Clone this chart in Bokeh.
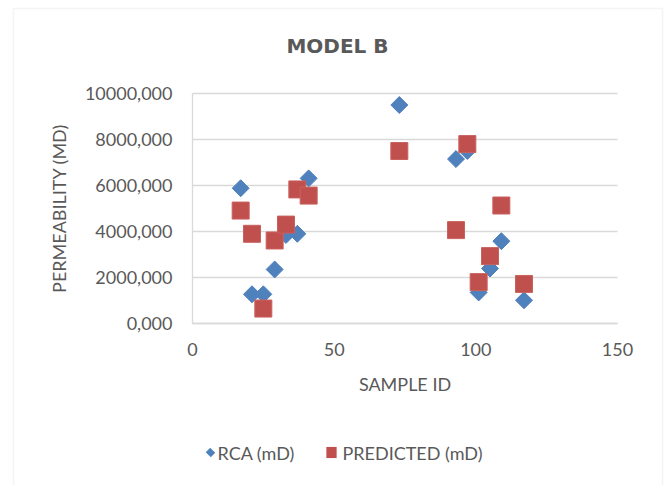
import numpy as np
from bokeh.plotting import figure
from bokeh.models import Range1d, FixedTicker, Label, BoxAnnotation
from bokeh.embed import file_html
from bokeh.resources import INLINE

title_text = "MODEL B"
x_label = "SAMPLE ID"
y_label = "PERMEABILITY (MD)"
series_names = ["RCA (mD)", "PREDICTED (mD)"]
series_colors = ["#4F81BD", "#C0504D"]

sample_id = [17, 21, 25, 29, 33, 37, 41, 73, 93, 97, 101, 105, 109, 117]
rca = [5880, 1270, 1270, 2350, 3850, 3900, 6310, 9500, 7150, 7500, 1350, 2390, 3580, 1010]
predicted = [4910, 3900, 650, 3610, 4300, 5830, 5560, 7500, 4060, 7800, 1800, 2930, 5130, 1720]

x_ticks = [0, 50, 100, 150]
y_ticks = [0, 2000, 4000, 6000, 8000, 10000]
y_tick_labels = ["0,000", "2000,000", "4000,000", "6000,000", "8000,000", "10000,000"]

FONT = "Lato"
TXT = "#595959"
GRID = "#d9d9d9"

# canvas and plot-area geometry (pixels)
W, H = 664, 485
PL, PR, PT, PB = 192, 617, 93, 323

x0, x1 = x_ticks[0], x_ticks[-1]
y0, y1 = y_ticks[0], y_ticks[-1]
kx = (x1 - x0) / (PR - PL)
ky = (y1 - y0) / (PB - PT)

p = figure(width=W, height=H, output_backend="svg", toolbar_location=None,
           x_range=Range1d(x0 - PL * kx, x1 + (W - PR) * kx),
           y_range=Range1d(y0 - (H - PB) * ky, y1 + PT * ky),
           min_border_left=0, min_border_right=0, min_border_top=0, min_border_bottom=0)
p.outline_line_color = None
p.background_fill_color = "white"
p.border_fill_color = "white"

p.xgrid.grid_line_color = None
p.ygrid.grid_line_color = GRID
p.ygrid.grid_line_width = 1.3
p.ygrid.ticker = FixedTicker(ticks=y_ticks)
p.ygrid.bounds = (y0, y1)
p.ygrid.cross_bounds = (x0, x1)

p.xaxis.ticker = FixedTicker(ticks=x_ticks)
p.yaxis.ticker = FixedTicker(ticks=y_ticks)
p.yaxis.major_label_overrides = {t: l for t, l in zip(y_ticks, y_tick_labels)}
p.xaxis.fixed_location = y0
p.yaxis.fixed_location = x0
p.xaxis.bounds = (x0, x1)
p.yaxis.bounds = (y0, y1)

for ax in (p.xaxis[0], p.yaxis[0]):
    ax.axis_line_color = GRID
    ax.axis_line_width = 1.3
    ax.major_tick_line_color = None
    ax.minor_tick_line_color = None
    ax.major_tick_out = 0
    ax.major_tick_in = 0
    ax.major_label_text_font = FONT
    ax.major_label_text_font_size = "18px"
    ax.major_label_text_color = TXT
    ax.axis_label_text_font = FONT
    ax.axis_label_text_font_size = "18px"
    ax.axis_label_text_color = TXT
    ax.axis_label_text_font_style = "normal"

p.xaxis.axis_label = x_label
p.yaxis.axis_label = y_label
p.xaxis.major_label_standoff = 19
p.xaxis.axis_label_standoff = 14
p.yaxis.major_label_standoff = 20
p.yaxis.axis_label_standoff = 12

r1 = p.scatter(sample_id, rca, marker="square", angle=np.pi / 4, size=12,
               fill_color=series_colors[0], line_color=series_colors[0])
r2 = p.scatter(sample_id, predicted, marker="square", size=17,
               fill_color=series_colors[1], line_color="#C9615E")


def sy(py):
    return H - py


title = Label(x=337, y=sy(45), x_units="screen", y_units="screen", text=title_text,
              text_font="DejaVu Sans", text_font_style="bold", text_font_size="20px",
              text_color=TXT, text_align="center", text_baseline="middle")
p.add_layout(title)

# legend below the plot area
leg_y = sy(452)
p.add_layout(Label(x=217, y=leg_y, x_units="screen", y_units="screen", text=series_names[0],
                   text_font=FONT, text_font_size="18px", text_color=TXT,
                   text_align="left", text_baseline="middle"))
p.add_layout(Label(x=342, y=leg_y, x_units="screen", y_units="screen", text=series_names[1],
                   text_font=FONT, text_font_size="18px", text_color=TXT,
                   text_align="left", text_baseline="middle"))
p.add_layout(Label(x=331, y=leg_y, x_units="screen", y_units="screen", text=" ",
                   text_font_size="1px", text_align="center", text_baseline="middle",
                   padding=5, background_fill_color=series_colors[1]))
p.add_layout(Label(x=210, y=leg_y, x_units="screen", y_units="screen", text=" ",
                   text_font_size="1px", text_align="center", text_baseline="middle",
                   angle=np.pi / 4, padding=3, background_fill_color=series_colors[0]))

# chart-area border
p.add_layout(BoxAnnotation(left=13, right=662, bottom=-10, top=sy(8),
                           left_units="screen", right_units="screen",
                           bottom_units="screen", top_units="screen",
                           fill_alpha=0, line_color=GRID, line_width=1.5))

open("out.html", "w").write(file_html(p, INLINE))
